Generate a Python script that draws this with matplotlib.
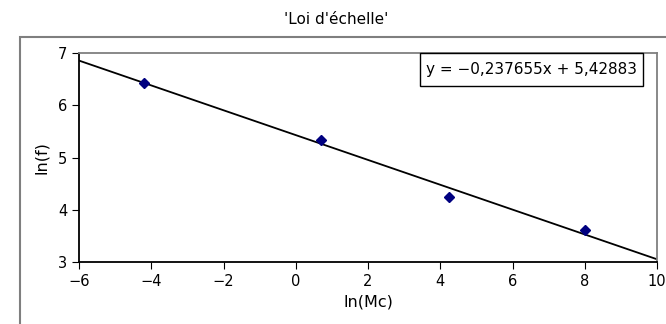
import matplotlib.pyplot as plt
import numpy as np
from matplotlib.patches import Rectangle

# measured points (ln(Mc), ln(f))
ln_mc = [-4.2, 0.7, 4.25, 8.0]
ln_f = [6.43, 5.34, 4.24, 3.61]

# trend line from the chart's equation
slope = -0.237655
intercept = 5.42883
x_range = [-6, 10]


def main() -> None:
    fig = plt.figure(figsize=(6.66, 3.24), dpi=100)

    # outer chart frame (cropped at right/bottom in the reference)
    fig.patches.append(Rectangle((20 / 666, -0.2), 1.2, 1.2 - 37 / 324,
                                 transform=fig.transFigure, fill=False,
                                 edgecolor='#7f7f7f', linewidth=1.5))

    ax = fig.add_axes([79 / 666, 1 - 262 / 324, 578 / 666, 209 / 324])

    xs = np.array(x_range, dtype=float)
    ax.plot(xs, slope * xs + intercept, color='black', linewidth=1.3, zorder=2)
    ax.plot(ln_mc, ln_f, linestyle='none', marker='D', markersize=5.5,
            color='#000080', zorder=3)

    ax.set_xlim(-6, 10)
    ax.set_ylim(3, 7)
    ax.set_xticks(np.arange(-6, 11, 2))
    ax.set_yticks(np.arange(3, 8, 1))
    ax.tick_params(direction='out', length=5, labelsize=10.5)

    for side in ('left', 'bottom'):
        ax.spines[side].set_color('black')
        ax.spines[side].set_linewidth(1.3)
    for side in ('top', 'right'):
        ax.spines[side].set_color('#7f7f7f')
        ax.spines[side].set_linewidth(1.3)

    ax.set_xlabel('ln(Mc)', fontsize=11.5, labelpad=4)
    ax.set_ylabel('ln(f)', fontsize=11.5, labelpad=6)

    # equation box
    ax.add_patch(Rectangle((0.590, 0.842), 0.386, 0.158,
                           transform=ax.transAxes, facecolor='white',
                           edgecolor='black', linewidth=1, zorder=4,
                           clip_on=False))
    eq = 'y = \u22120,237655x + 5,42883'
    ax.text(0.783, 0.921, eq, transform=ax.transAxes, ha='center',
            va='center', fontsize=11, zorder=5)

    fig.text(336 / 666, 1 - 20 / 324, "'Loi d'échelle'", ha='center',
             va='center', fontsize=11)

    fig.savefig('out.png', dpi=100)


if __name__ == '__main__':
    main()
